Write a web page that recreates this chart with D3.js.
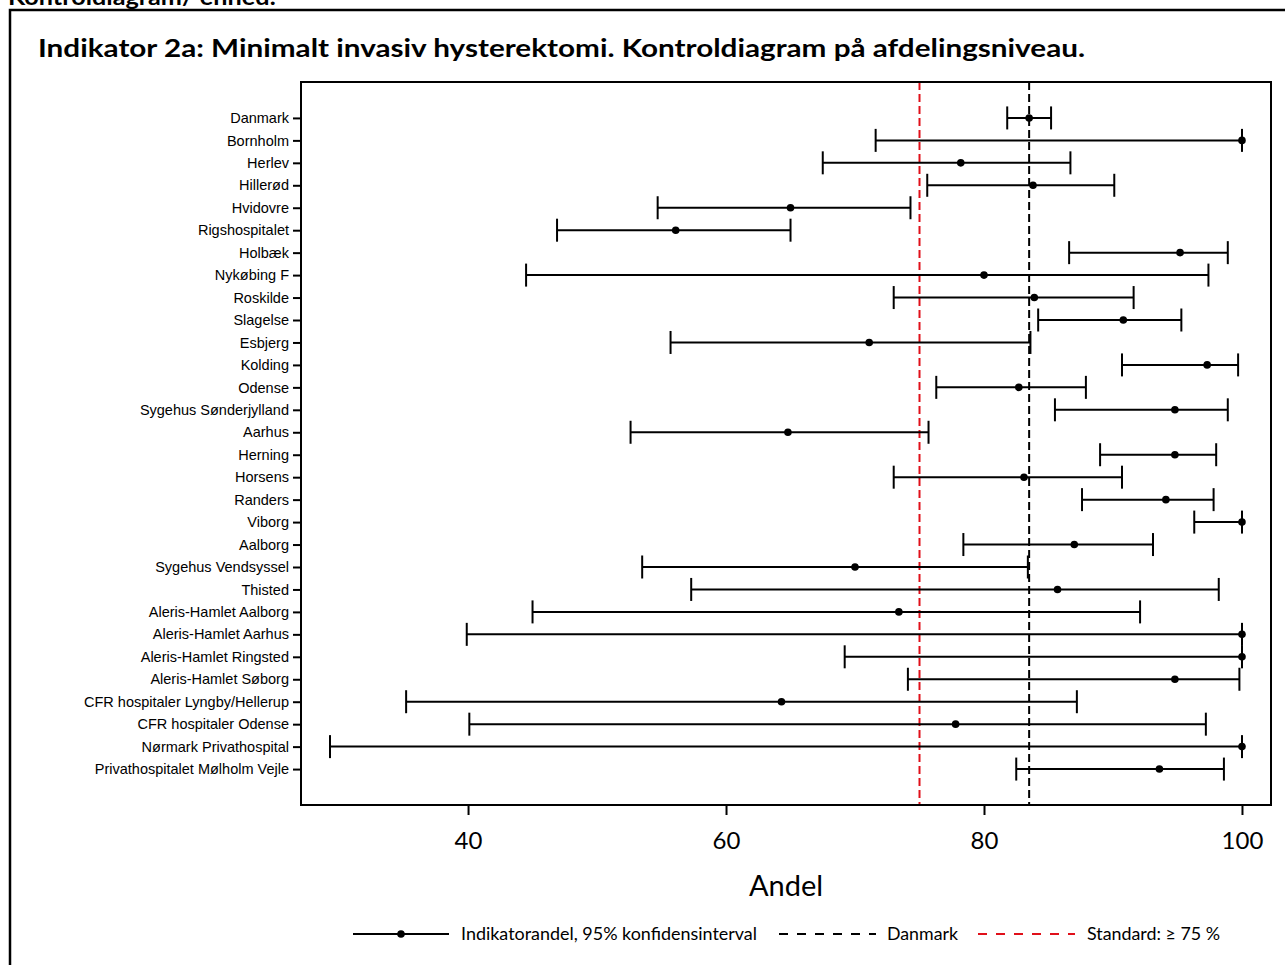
<!DOCTYPE html>
<html>
<head>
<meta charset="utf-8">
<script src="https://cdn.jsdelivr.net/npm/d3@7"></script>
<style>
  html, body { margin: 0; padding: 0; background: #fff; }
  svg { display: block; }
</style>
</head>
<body>
<svg id="chart" width="1285" height="965"></svg>
<script>
// Departments, top to bottom
const categories = [
  "Danmark", "Bornholm", "Herlev", "Hillerød", "Hvidovre", "Rigshospitalet",
  "Holbæk", "Nykøbing F", "Roskilde", "Slagelse", "Esbjerg", "Kolding",
  "Odense", "Sygehus Sønderjylland", "Aarhus", "Herning", "Horsens", "Randers",
  "Viborg", "Aalborg", "Sygehus Vendsyssel", "Thisted", "Aleris-Hamlet Aalborg",
  "Aleris-Hamlet Aarhus", "Aleris-Hamlet Ringsted", "Aleris-Hamlet Søborg",
  "CFR hospitaler Lyngby/Hellerup", "CFR hospitaler Odense",
  "Nørmark Privathospital", "Privathospitalet Mølholm Vejle"
];

// Indicator share (%) with 95% confidence limits
const estimate = [
  83.5, 100, 78.2, 83.8, 65.0, 56.1,
  95.2, 80.0, 83.9, 90.8, 71.1, 97.3,
  82.7, 94.8, 64.8, 94.8, 83.1, 94.1,
  100, 87.0, 70.0, 85.7, 73.4,
  100, 100, 94.8,
  64.3, 77.8,
  100, 93.6
];
const lower = [
  81.8, 71.6, 67.5, 75.6, 54.7, 46.9,
  86.6, 44.5, 73.0, 84.2, 55.7, 90.7,
  76.3, 85.5, 52.6, 89.0, 73.0, 87.6,
  96.3, 78.4, 53.5, 57.3, 45.0,
  39.9, 69.2, 74.1,
  35.2, 40.1,
  29.3, 82.5
];
const upper = [
  85.2, 100, 86.7, 90.1, 74.3, 65.0,
  98.9, 97.4, 91.6, 95.3, 83.6, 99.7,
  87.9, 98.9, 75.7, 98.0, 90.7, 97.8,
  100, 93.1, 83.4, 98.2, 92.1,
  100, 100, 99.8,
  87.2, 97.2,
  100, 98.6
];

// Reference levels
const danmarkLevel = 83.5;
const standardLevel = 75;

// Axis ticks
const xTicks = [40, 60, 80, 100];

// Legend entries
const legendLabels = ["Indikatorandel, 95% konfidensinterval", "Danmark", "Standard: \u2265 75 %"];

const rows = categories.map((c, i) => ({ name: c, est: estimate[i], lo: lower[i], hi: upper[i] }));

const svg = d3.select("#chart");
const W = 1285, H = 965;
const plot = { left: 301, right: 1271, top: 82, bottom: 805 };
const calibri = "Lato, 'Open Sans', sans-serif";

svg.append("rect").attr("width", W).attr("height", H).attr("fill", "#fff");

// Page heading, partly above the page edge
svg.append("text")
  .attr("x", 8).attr("y", 5)
  .attr("font-family", calibri).attr("font-weight", 700).attr("font-size", 22)
  .attr("textLength", 268).attr("lengthAdjust", "spacingAndGlyphs")
  .text("Kontroldiagram/ enhed:");

// Outer frame
svg.append("rect")
  .attr("x", 10).attr("y", 10).attr("width", 1300).attr("height", 1000)
  .attr("fill", "none").attr("stroke", "#000").attr("stroke-width", 2.5);

// Title
svg.append("text")
  .attr("x", 38).attr("y", 57)
  .attr("font-family", calibri).attr("font-weight", 700).attr("font-size", 25)
  .attr("textLength", 1047).attr("lengthAdjust", "spacingAndGlyphs")
  .text("Indikator 2a: Minimalt invasiv hysterektomi. Kontroldiagram på afdelingsniveau.");

const x = d3.scaleLinear().domain([27.05, 102.25]).range([plot.left, plot.right]);
const y = d3.scalePoint().domain(categories).range([plot.top, plot.bottom]).padding(1.6);

// Reference lines
const refs = [
  { v: standardLevel, color: "#e0101a" },
  { v: danmarkLevel, color: "#000" }
];
svg.append("g").selectAll("line").data(refs).join("line")
  .attr("x1", d => x(d.v)).attr("x2", d => x(d.v))
  .attr("y1", plot.top).attr("y2", plot.bottom)
  .attr("stroke", d => d.color).attr("stroke-width", 2)
  .attr("stroke-dasharray", "8,4");

// Error bars
const capH = 11.5;
const bars = svg.append("g").selectAll("g").data(rows).join("g")
  .attr("transform", d => `translate(0,${y(d.name)})`);
bars.append("line")
  .attr("x1", d => x(d.lo)).attr("x2", d => x(d.hi))
  .attr("stroke", "#000").attr("stroke-width", 2);
bars.append("line")
  .attr("x1", d => x(d.lo)).attr("x2", d => x(d.lo))
  .attr("y1", -capH).attr("y2", capH)
  .attr("stroke", "#000").attr("stroke-width", 2);
bars.append("line")
  .attr("x1", d => x(d.hi)).attr("x2", d => x(d.hi))
  .attr("y1", -capH).attr("y2", capH)
  .attr("stroke", "#000").attr("stroke-width", 2);
bars.append("circle")
  .attr("cx", d => x(d.est)).attr("r", 3.8).attr("fill", "#000");

// Plot frame
svg.append("rect")
  .attr("x", plot.left).attr("y", plot.top)
  .attr("width", plot.right - plot.left).attr("height", plot.bottom - plot.top)
  .attr("fill", "none").attr("stroke", "#000").attr("stroke-width", 2);

// Left axis with department names
const yAxis = svg.append("g")
  .attr("transform", `translate(${plot.left},0)`)
  .call(d3.axisLeft(y).tickSize(8).tickPadding(4));
yAxis.select(".domain").remove();
yAxis.selectAll(".tick line").attr("stroke", "#000").attr("stroke-width", 2);
yAxis.selectAll(".tick text")
  .attr("font-family", "'Liberation Sans', Arial, sans-serif")
  .attr("font-size", 14.5).attr("fill", "#000");

// Bottom axis
const xAxis = svg.append("g")
  .attr("transform", `translate(0,${plot.bottom})`)
  .call(d3.axisBottom(x).tickValues(xTicks).tickSize(10).tickPadding(17).tickFormat(d3.format("d")));
xAxis.select(".domain").remove();
xAxis.selectAll(".tick line").attr("stroke", "#000").attr("stroke-width", 2);
xAxis.selectAll(".tick text")
  .attr("font-family", calibri).attr("font-size", 24).attr("fill", "#000");

// Axis title
svg.append("text")
  .attr("x", (plot.left + plot.right) / 2).attr("y", 896)
  .attr("text-anchor", "middle")
  .attr("font-family", calibri).attr("font-size", 29)
  .text("Andel");

// Legend
const ly = 934;
const legend = svg.append("g");
legend.append("line").attr("x1", 353).attr("x2", 449).attr("y1", ly).attr("y2", ly)
  .attr("stroke", "#000").attr("stroke-width", 2);
legend.append("circle").attr("cx", 401).attr("cy", ly).attr("r", 3.8).attr("fill", "#000");
legend.append("line").attr("x1", 779).attr("x2", 876).attr("y1", ly).attr("y2", ly)
  .attr("stroke", "#000").attr("stroke-width", 2).attr("stroke-dasharray", "9,9");
legend.append("line").attr("x1", 978).attr("x2", 1075).attr("y1", ly).attr("y2", ly)
  .attr("stroke", "#e0101a").attr("stroke-width", 2).attr("stroke-dasharray", "9,9");

const legendText = [
  { x: 461, w: 296 },
  { x: 887, w: 71 },
  { x: 1087, w: 133 }
];
legend.selectAll("text").data(legendLabels).join("text")
  .attr("x", (d, i) => legendText[i].x).attr("y", ly + 6)
  .attr("font-family", calibri).attr("font-size", 17)
  .attr("textLength", (d, i) => legendText[i].w).attr("lengthAdjust", "spacingAndGlyphs")
  .text(d => d);
</script>
</body>
</html>
